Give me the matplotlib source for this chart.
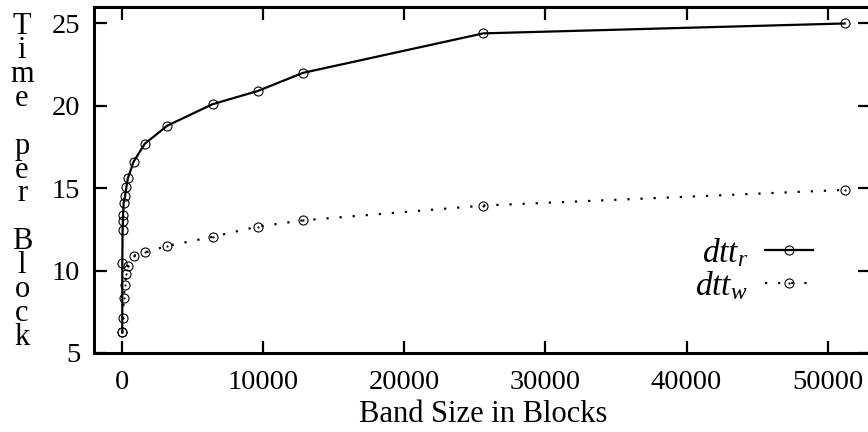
import matplotlib
matplotlib.use("Agg")
import matplotlib.pyplot as plt
from matplotlib.path import Path

# Data
read_x = [1, 8, 25, 50, 60, 100, 200, 300, 400, 800, 1600, 3200, 6400, 9600, 12800, 25600, 51200]
read_y = [6.25, 10.45, 12.45, 13.0, 13.4, 14.1, 14.5, 15.1, 15.6, 16.6, 17.7, 18.8, 20.1, 20.9, 22.0, 24.4, 25.0]

write_x = [1, 50, 100, 200, 300, 400, 800, 1600, 3200, 6400, 9600, 12800, 25600, 51200]
write_y = [6.25, 7.1, 8.35, 9.1, 9.8, 10.3, 10.9, 11.1, 11.5, 12.05, 12.67, 13.05, 13.95, 14.9]

x_ticks = [0, 10000, 20000, 30000, 40000, 50000]
y_ticks = [5, 10, 15, 20, 25]
y_label = "Time per Block"

plt.rcParams["font.family"] = ["Liberation Serif", "DejaVu Serif"]
plt.rcParams["mathtext.fontset"] = "custom"
plt.rcParams["mathtext.it"] = "Liberation Serif:italic"
plt.rcParams["mathtext.rm"] = "Liberation Serif"

fig = plt.figure(figsize=(8.68, 4.32), dpi=100)
ax = fig.add_axes([94 / 868, 1 - 353 / 432, 776 / 868, 346 / 432])

# circle with a dot in the middle, like gnuplot's point type
dot_circle = Path.make_compound_path(Path.unit_circle(), Path.circle((0, 0), 0.12))

ax.plot(read_x, read_y, color="black", lw=1.6, marker="o", ms=6.5,
        mfc="none", mew=0.8, label="$dtt_r$")
ax.plot(write_x, write_y, color="black", lw=1.6, ls=(0, (1, 4.9)),
        marker=dot_circle, ms=6.5, mfc="none", mew=0.8, label="$dtt_w$")

ax.set_xlim(-2000, 53000)
ax.set_ylim(5, 26)
ax.set_xticks(x_ticks)
ax.set_yticks(y_ticks)
ax.tick_params(direction="in", length=9, width=1.6, labelsize=20.5, pad=10,
               top=True, right=True)
ax.tick_params(axis="x", pad=12)
for s in ax.spines.values():
    s.set_linewidth(2.2)

fig.text(483 / 868, 1 - 414 / 432, "Band Size in Blocks", ha="center",
         va="center", fontsize=22)
fig.text(22 / 868, 1 - 182 / 432, "\n".join(y_label), ha="center",
         va="center", fontsize=22, linespacing=0.77)

ax.legend(loc="center right", bbox_to_anchor=(813 / 868, 1 - 269 / 432),
          bbox_transform=fig.transFigure, frameon=False, markerfirst=False,
          fontsize=24, handlelength=1.45, handletextpad=0.5, borderpad=0,
          borderaxespad=0, labelspacing=0.0)

fig.savefig("out.png", dpi=100)
